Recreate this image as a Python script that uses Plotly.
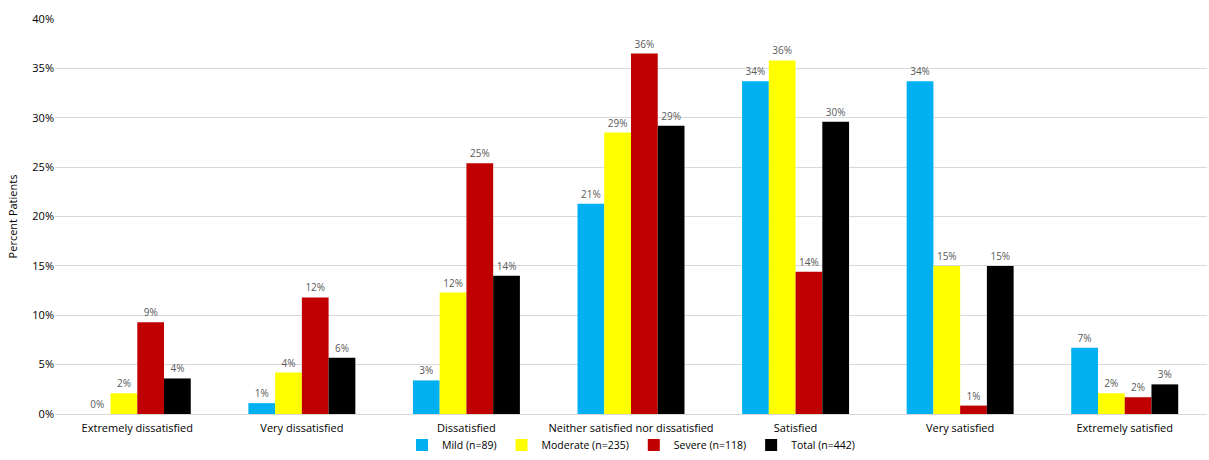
import plotly.graph_objects as go

categories = ["Extremely dissatisfied", "Very dissatisfied", "Dissatisfied",
              "Neither satisfied nor dissatisfied", "Satisfied", "Very satisfied",
              "Extremely satisfied"]
series_names = ["Mild (n=89)", "Moderate (n=235)", "Severe (n=118)", "Total (n=442)"]
mild = [0.0, 1.1, 3.4, 21.3, 33.7, 33.7, 6.7]
moderate = [2.1, 4.2, 12.3, 28.5, 35.8, 15.0, 2.1]
severe = [9.3, 11.8, 25.4, 36.5, 14.4, 0.85, 1.7]
total = [3.6, 5.7, 14.0, 29.2, 29.6, 15.0, 3.0]
mild_labels = ["0%", "1%", "3%", "21%", "34%", "34%", "7%"]
moderate_labels = ["2%", "4%", "12%", "29%", "36%", "15%", "2%"]
severe_labels = ["9%", "12%", "25%", "36%", "14%", "1%", "2%"]
total_labels = ["4%", "6%", "14%", "29%", "30%", "15%", "3%"]
colors = ["#00B0F0", "#FFFF00", "#C00000", "#000000"]
y_ticks = [0, 5, 10, 15, 20, 25, 30, 35, 40]

fig = go.Figure()
for name, vals, labs, col in zip(series_names, [mild, moderate, severe, total],
                                 [mild_labels, moderate_labels, severe_labels, total_labels], colors):
    fig.add_trace(go.Bar(
        x=categories, y=vals, name=name, marker_color=col,
        marker_line_width=0,
        text=labs, textposition="outside", cliponaxis=False,
        textfont=dict(size=10, color="#595959", family="Open Sans"),
    ))

fig.update_layout(
    width=1209, height=460,
    margin=dict(l=55, r=2, t=19, b=45),
    paper_bgcolor="white", plot_bgcolor="white",
    barmode="group", bargap=0.35, bargroupgap=0,
    font=dict(family="Open Sans", size=11, color="#000000"),
    legend=dict(orientation="h", x=0.5, xanchor="center",
                y=-0.1125, yanchor="bottom",
                bgcolor="rgba(0,0,0,0)",
                font=dict(size=10.5), itemwidth=30, traceorder="normal",
                tracegroupgap=0),
    xaxis=dict(showgrid=False, showline=False, ticks="", tickfont=dict(size=11),
               ticklabelstandoff=6),
    yaxis=dict(range=[0, 40], tickvals=y_ticks, ticktext=[f"{t}%" for t in y_ticks],
               gridcolor="#D9D9D9", gridwidth=1, zeroline=True, zerolinecolor="#D9D9D9",
               zerolinewidth=1,
               title=dict(text="Percent Patients", font=dict(size=11), standoff=12),
               tickfont=dict(size=11)),
)
fig.write_html("out.html")
